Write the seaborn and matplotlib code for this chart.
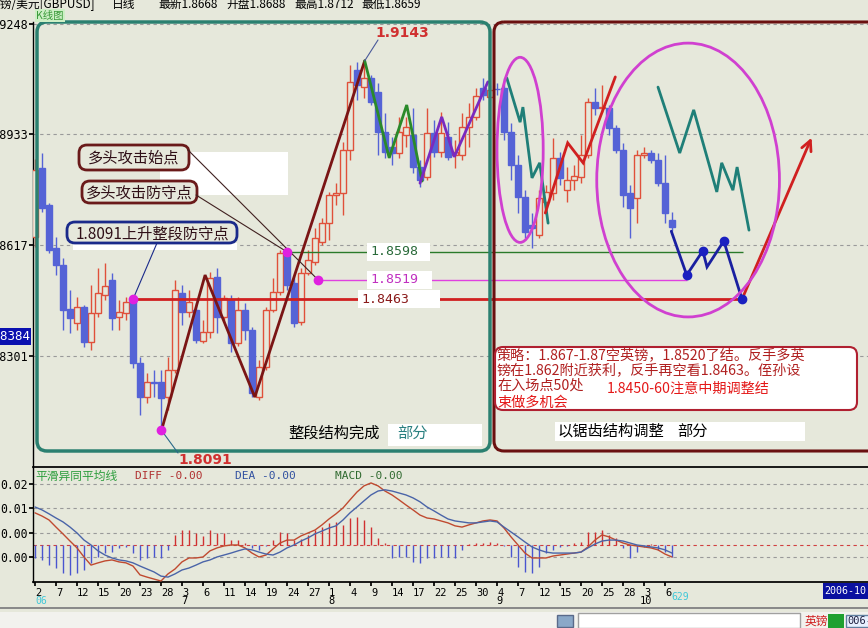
import matplotlib
matplotlib.use("Agg")
import matplotlib.pyplot as plt
import numpy as np
import pandas as pd
import seaborn as sns
from matplotlib.patches import FancyBboxPatch, Ellipse, Rectangle
from matplotlib.transforms import Affine2D

# GBP/USD daily candles, June 2 - Oct 2006
opens = [1.8641, 1.8837, 1.8732, 1.8609, 1.8561, 1.8435, 1.8395, 1.8441, 1.8341, 1.8424,
         1.8475, 1.8518, 1.8412, 1.8424, 1.8461, 1.8281, 1.8184, 1.8227, 1.8227, 1.8184,
         1.8261, 1.8481, 1.8427, 1.8432, 1.8344, 1.8370, 1.8526, 1.8412, 1.8461, 1.8338,
         1.8432, 1.8375, 1.8184, 1.8270, 1.8432, 1.8484, 1.8595, 1.8509, 1.8398, 1.8538,
         1.8570, 1.8627, 1.8680, 1.8760, 1.8766, 1.8889, 1.9117, 1.9068, 1.9094, 1.9054,
         1.8940, 1.8897, 1.8880, 1.8931, 1.8931, 1.8840, 1.8812, 1.8937, 1.8883, 1.8926,
         1.8874, 1.8874, 1.8954, 1.8983, 1.9066, 1.9040, 1.9063, 1.9066, 1.8940, 1.8846,
         1.8755, 1.8675, 1.8646, 1.8740, 1.8766, 1.8866, 1.8774, 1.8803, 1.8812, 1.8874,
         1.9026, 1.9008, 1.9008, 1.8951, 1.8889, 1.8766, 1.8752, 1.8874, 1.8880, 1.8860,
         1.8794, 1.8688]
highs = [1.8863, 1.8880, 1.8737, 1.8641, 1.8581, 1.8489, 1.8469, 1.8446, 1.8504, 1.8552,
         1.8567, 1.8538, 1.8461, 1.8469, 1.8466, 1.8298, 1.8253, 1.8261, 1.8261, 1.8298,
         1.8518, 1.8504, 1.8489, 1.8452, 1.8404, 1.8541, 1.8552, 1.8475, 1.8475, 1.8469,
         1.8452, 1.8384, 1.8290, 1.8441, 1.8524, 1.8604, 1.8604, 1.8532, 1.8552, 1.8604,
         1.8666, 1.8695, 1.8769, 1.8794, 1.8911, 1.9131, 1.9140, 1.9143, 1.9103, 1.9080,
         1.8994, 1.8926, 1.8983, 1.8983, 1.9008, 1.8860, 1.9008, 1.8974, 1.8997, 1.8968,
         1.8917, 1.8994, 1.9023, 1.9066, 1.9094, 1.9074, 1.9080, 1.9094, 1.8966, 1.8874,
         1.8774, 1.8709, 1.8774, 1.8789, 1.8923, 1.8883, 1.8840, 1.8846, 1.8931, 1.9037,
         1.9066, 1.9074, 1.9017, 1.8960, 1.8909, 1.8789, 1.8889, 1.8897, 1.8889, 1.8880,
         1.8874, 1.8712]
lows = [1.8612, 1.8712, 1.8595, 1.8532, 1.8375, 1.8367, 1.8375, 1.8327, 1.8318, 1.8412,
        1.8461, 1.8375, 1.8375, 1.8404, 1.8267, 1.8133, 1.8167, 1.8184, 1.8091, 1.8147,
        1.8253, 1.8390, 1.8412, 1.8338, 1.8338, 1.8352, 1.8367, 1.8398, 1.8313, 1.8330,
        1.8347, 1.8184, 1.8176, 1.8261, 1.8427, 1.8475, 1.8489, 1.8384, 1.8390, 1.8532,
        1.8561, 1.8618, 1.8632, 1.8732, 1.8703, 1.8860, 1.9031, 1.9037, 1.9017, 1.8874,
        1.8866, 1.8846, 1.8866, 1.8897, 1.8823, 1.8783, 1.8803, 1.8869, 1.8869, 1.8860,
        1.8837, 1.8860, 1.8897, 1.8974, 1.9031, 1.9031, 1.9046, 1.8917, 1.8803, 1.8709,
        1.8638, 1.8609, 1.8638, 1.8723, 1.8746, 1.8789, 1.8740, 1.8774, 1.8794, 1.8866,
        1.8988, 1.8997, 1.8931, 1.8880, 1.8726, 1.8638, 1.8680, 1.8866, 1.8852, 1.8786,
        1.8680, 1.8659]
closes = [1.8832, 1.8723, 1.8604, 1.8561, 1.8432, 1.8410, 1.8441, 1.8341, 1.8424, 1.8481,
          1.8501, 1.8410, 1.8427, 1.8455, 1.8281, 1.8184, 1.8227, 1.8224, 1.8181, 1.8261,
          1.8489, 1.8427, 1.8455, 1.8347, 1.8370, 1.8524, 1.8412, 1.8466, 1.8338, 1.8432,
          1.8375, 1.8196, 1.8270, 1.8432, 1.8484, 1.8595, 1.8504, 1.8395, 1.8538, 1.8575,
          1.8638, 1.8680, 1.8760, 1.8766, 1.8889, 1.9083, 1.9074, 1.9094, 1.9026, 1.8940,
          1.8883, 1.8880, 1.8940, 1.8954, 1.8840, 1.8803, 1.8937, 1.8883, 1.8937, 1.8869,
          1.8883, 1.8954, 1.8983, 1.9043, 1.9046, 1.9060, 1.9062, 1.8940, 1.8846, 1.8755,
          1.8655, 1.8666, 1.8752, 1.8769, 1.8866, 1.8809, 1.8803, 1.8814, 1.8874, 1.9026,
          1.9008, 1.9011, 1.8951, 1.8889, 1.8760, 1.8723, 1.8874, 1.8880, 1.8860, 1.8794,
          1.8709, 1.8668]

# MACD panel
diff = [0.0082, 0.0069, 0.0053, 0.0024, -0.0004, -0.0033, -0.0061, -0.0098, -0.0131, -0.0122,
        -0.0114, -0.0110, -0.0118, -0.0122, -0.0135, -0.0171, -0.0180, -0.0188, -0.0196, -0.0167,
        -0.0147, -0.0118, -0.0102, -0.0102, -0.0098, -0.0073, -0.0061, -0.0053, -0.0049, -0.0049,
        -0.0061, -0.0082, -0.0098, -0.0090, -0.0065, -0.0041, -0.0029, -0.0029, -0.0012, 0.0000,
        0.0012, 0.0033, 0.0057, 0.0078, 0.0102, 0.0135, 0.0167, 0.0192, 0.0204, 0.0192,
        0.0171, 0.0155, 0.0135, 0.0114, 0.0094, 0.0073, 0.0061, 0.0057, 0.0049, 0.0041,
        0.0029, 0.0024, 0.0033, 0.0041, 0.0049, 0.0053, 0.0049, 0.0020, -0.0016, -0.0049,
        -0.0082, -0.0102, -0.0102, -0.0102, -0.0094, -0.0090, -0.0086, -0.0082, -0.0078, -0.0057,
        -0.0029, -0.0008, -0.0016, -0.0029, -0.0041, -0.0049, -0.0053, -0.0057, -0.0061, -0.0069,
        -0.0086, -0.0098]
dea = [0.0106, 0.0094, 0.0078, 0.0061, 0.0045, 0.0024, 0.0000, -0.0029, -0.0049, -0.0073,
       -0.0090, -0.0102, -0.0110, -0.0114, -0.0122, -0.0135, -0.0147, -0.0159, -0.0176, -0.0180,
       -0.0167, -0.0151, -0.0143, -0.0131, -0.0118, -0.0110, -0.0098, -0.0090, -0.0082, -0.0073,
       -0.0065, -0.0069, -0.0078, -0.0086, -0.0090, -0.0078, -0.0061, -0.0049, -0.0033, -0.0020,
       -0.0004, 0.0008, 0.0020, 0.0029, 0.0053, 0.0082, 0.0106, 0.0131, 0.0155, 0.0171,
       0.0176, 0.0171, 0.0163, 0.0155, 0.0143, 0.0127, 0.0106, 0.0090, 0.0073, 0.0057,
       0.0049, 0.0045, 0.0041, 0.0041, 0.0045, 0.0049, 0.0045, 0.0024, 0.0004, -0.0016,
       -0.0037, -0.0057, -0.0069, -0.0078, -0.0082, -0.0082, -0.0082, -0.0082, -0.0078, -0.0061,
       -0.0045, -0.0033, -0.0029, -0.0029, -0.0033, -0.0041, -0.0049, -0.0053, -0.0057, -0.0061,
       -0.0069, -0.0082]
macd_hist = [-0.0053, -0.0061, -0.0082, -0.0094, -0.0114, -0.0122, -0.0114, -0.0102, -0.0073, -0.0049,
             -0.0033, -0.0029, -0.0012, -0.0008, -0.0033, -0.0061, -0.0053, -0.0049, -0.0053, -0.0020,
             0.0041, 0.0061, 0.0061, 0.0049, 0.0037, 0.0061, 0.0049, 0.0049, 0.0020, 0.0020,
             0.0008, -0.0012, -0.0020, -0.0004, 0.0020, 0.0053, 0.0049, 0.0020, 0.0024, 0.0041,
             0.0061, 0.0073, 0.0090, 0.0094, 0.0082, 0.0110, 0.0114, 0.0102, 0.0073, 0.0029,
             0.0008, -0.0053, -0.0049, -0.0049, -0.0069, -0.0073, -0.0053, -0.0053, -0.0049, -0.0049,
             -0.0053, -0.0020, 0.0003, 0.0008, 0.0008, 0.0012, 0.0008, -0.0003, -0.0049, -0.0090,
             -0.0110, -0.0114, -0.0090, -0.0033, -0.0020, -0.0008, -0.0004, 0.0008, 0.0012, 0.0053,
             0.0053, 0.0061, 0.0041, 0.0029, -0.0012, -0.0053, -0.0029, -0.0008, 0.0002, -0.0020,
             -0.0029, -0.0049]
hist_base = -0.0049

date_labels = ["2", "7", "12", "15", "20", "23", "28", "3", "6", "11", "14", "19", "24", "27",
               "1", "4", "9", "14", "17", "22", "25", "30", "4", "7", "12", "15", "20", "25", "28",
               "3", "6"]
month_labels = ["7", "8", "9", "10"]
month_ticks = [7, 14, 22, 29]
price_ticks = [1.9248, 1.8933, 1.8617, 1.8301]
macd_ticks = [0.02, 0.01, 0.0, -0.01]
macd_tick_labels = ["0.02", "0.01", "0.00", "0.00"]

# hand-drawn analysis marks, as (bar, price)
brown_zig = [(18.1, 1.8091), (24.3, 1.8532), (31.4, 1.8184), (47.1, 1.9143)]
green_zig = [(47.1, 1.9143), (50.6, 1.8866), (53.1, 1.9017), (55.3, 1.8800)]
purple_zig = [(55.0, 1.8794), (58.1, 1.8983), (59.9, 1.8869), (64.7, 1.9083)]
teal_zig1 = [(67.4, 1.9094), (69.3, 1.8968), (69.7, 1.9011), (71.0, 1.8809), (72.1, 1.8852), (73.3, 1.8680)]
red_zig = [(72.9, 1.8709), (76.1, 1.8909), (78.3, 1.8852), (82.9, 1.9097)]
teal_zig2 = [(89.0, 1.9068), (92.1, 1.8880), (94.1, 1.9003), (97.4, 1.8769), (98.1, 1.8852),
             (99.7, 1.8774), (100.3, 1.8840), (102.0, 1.8660)]
blue_zig = [(90.9, 1.8657), (93.1, 1.8532), (95.4, 1.8601), (96.0, 1.8555), (98.4, 1.8629), (101.0, 1.8463)]
arrow_end = (111.1, 1.8931)
key_points = [(14, 1.8463), (18, 1.8091), (36, 1.8598), (40.4, 1.8519)]
levels = [(1.8598, 36, 101.1), (1.8519, 40.4, 93.1), (1.8463, 14, 101.0)]

sns.set_theme(style="white")
plt.rcParams["font.family"] = ["Noto Sans CJK SC", "DejaVu Sans"]
plt.rcParams["axes.unicode_minus"] = False

W, H = 868, 628
BG = "#E6E8DB"
UP = "#E0503A"
DOWN = "#5563D6"
MONO = "DejaVu Sans Mono"

fig = plt.figure(figsize=(W / 100, H / 100), dpi=100, facecolor=BG)
pix = Affine2D().scale(1 / W, -1 / H).translate(0, 1) + fig.transFigure


def rect(x0, y0, x1, y1):
    return [x0 / W, 1 - y1 / H, (x1 - x0) / W, (y1 - y0) / H]


ax = fig.add_axes(rect(33, 22, 868, 467))
ax2 = fig.add_axes(rect(33, 467, 868, 582))
for a in (ax, ax2):
    a.set_facecolor(BG)
    a.set_xlim(-2 / 7, 833 / 7)
    for s in a.spines.values():
        s.set_visible(False)
    a.spines["left"].set_visible(True)
    a.spines["left"].set_color("black")
    a.spines["left"].set_linewidth(1)
ax2.spines["top"].set_visible(True)
ax2.spines["top"].set_color("black")
ax2.spines["bottom"].set_visible(True)
ax2.spines["bottom"].set_color("black")
ax.set_ylim(1.79845, 1.92537)
ax2.set_ylim(-0.0200, 0.0269)


def to_px(a, x, y):
    dx, dy = a.transData.transform((x, y))
    return dx, H - dy


# ---- candles
df = pd.DataFrame({"open": opens, "high": highs, "low": lows, "close": closes})
df["x"] = np.arange(len(df))
up = df["close"] >= df["open"]
for mask, col in ((up, UP), (~up, DOWN)):
    d = df[mask]
    ax.vlines(d["x"], d["low"], d["high"], color=col, lw=1, zorder=2)
bu = df[up]
ax.bar(bu["x"], bu["close"] - bu["open"], bottom=bu["open"], width=0.72,
       facecolor=BG, edgecolor=UP, lw=1, zorder=3)
bd = df[~up]
ax.bar(bd["x"], bd["open"] - bd["close"], bottom=bd["close"], width=0.72,
       facecolor=DOWN, edgecolor=DOWN, lw=1, zorder=3)

for t in price_ticks:
    ax.axhline(t, color="#9A9A9A", lw=0.8, ls=(0, (3, 3)), zorder=1)
ax.set_xticks([])
ax.set_yticks(price_ticks, labels=[f"{t:.4f}" for t in price_ticks], fontfamily=MONO)
ax.tick_params(axis="y", direction="out", length=3, pad=0.5, labelsize=8.5,
               colors="black", left=True)

# ---- levels
lvl_cols = ["#2A7A2A", "#E040E0", "#D02020"]
lvl_text = ["#2A6A3A", "#C030C0", "#8A1A1A"]
lvl_lw = [1, 1, 2]
lvl_x0 = [367, 367, 358]
lvl_x1 = [430, 432, 440]
for (p, a0, a1), c, tc, lw, x0, x1 in zip(levels, lvl_cols, lvl_text, lvl_lw, lvl_x0, lvl_x1):
    ax.hlines(p, a0, a1, color=c, lw=lw, zorder=4)
    yp = to_px(ax, 0, p)[1]
    ax.add_patch(Rectangle((x0, yp - 9), x1 - x0, 18, transform=pix, facecolor="white",
                           edgecolor="none", zorder=6, clip_on=False))
    ax.text(x0 + 3, yp, f"{p:.4f}", transform=pix, color=tc, fontsize=9.5,
            fontfamily=MONO, va="center", ha="left", zorder=7)


def zig(pts, color, lw=2):
    xs, ys = zip(*pts)
    ax.plot(xs, ys, color=color, lw=lw, zorder=5, solid_joinstyle="miter")


zig(brown_zig, "#7A1515")
zig(green_zig, "#2A8A2A")
zig(purple_zig, "#7A2AC0")
zig(teal_zig1, "#1F7F78")
zig(red_zig, "#D02020")
zig(teal_zig2, "#1F7F78")
zig(blue_zig, "#1A20A0")
bx, by = zip(*blue_zig)
ax.plot([bx[i] for i in (1, 2, 4, 5)], [by[i] for i in (1, 2, 4, 5)], "o",
        color="#1A20C0", ms=6, zorder=9)
ax.annotate("", xy=arrow_end, xytext=blue_zig[-1],
            arrowprops=dict(arrowstyle="->", color="#D02020", lw=2, mutation_scale=18),
            zorder=5)
ax.add_patch(Ellipse((69.3, 1.8889), 6.6, 0.0528, fill=False, ec="#D040D0", lw=2, zorder=5))
ax.add_patch(Ellipse((93.3, 1.8803), 26.1, 0.0781, fill=False, ec="#D040D0", lw=2, zorder=5))

kx, ky = zip(*key_points)
ax.plot(kx, ky, "o", color="#E020E0", ms=6, zorder=9)

# ---- frames
ax.add_patch(FancyBboxPatch((37, 22), 453, 429, boxstyle="round,pad=0,rounding_size=10",
                            transform=pix, fill=False, ec="#2B8070", lw=2.5, zorder=6,
                            clip_on=False))
ax.add_patch(FancyBboxPatch((494, 22), 420, 429, boxstyle="round,pad=0,rounding_size=10",
                            transform=pix, fill=False, ec="#6A1010", lw=2.2, zorder=6,
                            clip_on=False))

# ---- callouts, left part
ax.add_patch(Rectangle((160, 152), 128, 43, transform=pix, fc="white", ec="none",
                       zorder=6, clip_on=False))
ax.add_patch(Rectangle((73, 243), 164, 7, transform=pix, fc="white", ec="none",
                       zorder=6, clip_on=False))
boxes = [((79, 145, 110, 25), "多头攻击始点", "#6A1A1A"),
         ((82, 181, 115, 22), "多头攻击防守点", "#6A1A1A"),
         ((67, 222, 170, 21), "1.8091上升整段防守点", "#1A2A8A")]
for (x0, y0, w, h), txt, ec in boxes:
    ax.add_patch(FancyBboxPatch((x0, y0), w, h, boxstyle="round,pad=0,rounding_size=8",
                                transform=pix, fc=BG, ec=ec, lw=2, zorder=7, clip_on=False))
    ax.text(x0 + w / 2, y0 + h / 2 + 1, txt, transform=pix, fontsize=11, color="#301018",
            ha="center", va="center", zorder=8)

for start, dpt, col in (((188, 150), key_points[3], "#402020"),
                        ((196, 195), key_points[2], "#402020"),
                        ((157, 243), key_points[0], "#1A2A8A")):
    ex, ey = to_px(ax, *dpt)
    ax.plot([start[0], ex], [start[1], ey], transform=pix, color=col, lw=0.8,
            zorder=8, clip_on=False)

px_, py_ = to_px(ax, 47.1, 1.9143)
ax.plot([px_, 378], [py_, 40], transform=pix, color="#4A5A9A", lw=0.8, zorder=8)
ax.text(375, 33, "1.9143", transform=pix, color="#D03030", fontsize=10,
        fontweight="bold", fontfamily="DejaVu Sans", va="center", zorder=8)
px_, py_ = to_px(ax, 18, 1.8091)
ax.plot([px_, 178], [py_, 453], transform=pix, color="#2A6A8A", lw=0.8, zorder=8,
        clip_on=False)
ax.text(178, 460, "1.8091", transform=pix, color="#D03030", fontsize=10,
        fontweight="bold", fontfamily="DejaVu Sans", va="center", zorder=8, clip_on=False)

ax.add_patch(Rectangle((388, 424), 94, 22, transform=pix, fc="white", ec="none",
                       zorder=6, clip_on=False))
ax.text(288, 433, "整段结构完成", transform=pix, fontsize=11, color="black",
        va="center", zorder=8)
ax.text(397, 434, "部分", transform=pix, fontsize=11, color="#2A8080", va="center", zorder=8)

# ---- right part
ax.add_patch(Rectangle((555, 422), 250, 19, transform=pix, fc="white", ec="none",
                       zorder=6, clip_on=False))
ax.text(558, 431, "以锯齿结构调整", transform=pix, fontsize=11, color="black",
        va="center", zorder=8)
ax.text(677, 432, "部分", transform=pix, fontsize=11, color="black", va="center", zorder=8)

ax.add_patch(FancyBboxPatch((495, 347), 362, 63, boxstyle="round,pad=0,rounding_size=8",
                            transform=pix, fc="white", ec="#B02030", lw=1.5, zorder=6,
                            clip_on=False))
strategy = [(497, 356, "策略：1.867-1.87空英镑，1.8520了结。反手多英", "#B02020"),
            (497, 371, "镑在1.862附近获利，反手再空看1.8463。侄孙设", "#B02020"),
            (497, 386, "在入场点50处", "#B02020"),
            (607, 389, "1.8450-60注意中期调整结", "#E41818"),
            (497, 403, "束做多机会", "#E41818")]
for x0, y0, txt, col in strategy:
    ax.text(x0, y0, txt, transform=pix, fontsize=10.2, color=col, va="center",
            ha="left", zorder=8)

# ---- MACD panel
mdf = pd.DataFrame({"x": np.arange(len(diff)), "DIFF": diff, "DEA": dea})
for v in macd_ticks:
    ax2.axhline(v, color="#9A9A9A", lw=0.8, ls=(0, (3, 3)), zorder=1)
ax2.axhline(hist_base, color="#D04040", lw=0.8, ls=(0, (3, 3)), zorder=1)
hist = np.array(macd_hist)
ax2.vlines(mdf["x"], hist_base, hist_base + hist,
           colors=np.where(hist >= 0, "#D03030", "#4A55D0"), lw=1, zorder=2)
sns.lineplot(data=mdf, x="x", y="DIFF", ax=ax2, color="#C04A30", lw=1, zorder=3)
sns.lineplot(data=mdf, x="x", y="DEA", ax=ax2, color="#4A64A8", lw=1, zorder=3)
ax2.set_xlabel("")
ax2.set_ylabel("")
ax2.set_yticks(macd_ticks, labels=macd_tick_labels, fontfamily=MONO)
ax2.tick_params(axis="y", direction="out", length=3, pad=0.5, labelsize=8.3,
                colors="black", left=True)
tick_pos = np.arange(len(date_labels)) * 3
ax2.set_xticks(tick_pos, labels=date_labels, ha="left", fontfamily=MONO)
ax2.tick_params(axis="x", direction="out", length=3, pad=1, labelsize=7.5,
                colors="black", bottom=True)

for k, m in zip(month_ticks, month_labels):
    xp = to_px(ax2, tick_pos[k] + 0.3, 0)[0]
    fig.text(xp, 601, m, transform=pix, fontsize=7.5, fontfamily=MONO, ha="center",
             va="center", color="black")
xp = to_px(ax2, 0, 0)[0]
fig.text(xp, 601, "06", transform=pix, fontsize=7, fontfamily=MONO, ha="left",
         va="center", color="#40C8D8")
xp = to_px(ax2, len(diff) + 0.2, 0)[0]
fig.text(xp, 597, "629", transform=pix, fontsize=7, fontfamily=MONO, ha="center",
         va="center", color="#40C8D8")

fig.text(35, 476, "平滑异同平均线", transform=pix, fontsize=8.5, color="#2E9E3E", va="center")
fig.text(135, 476, "DIFF -0.00", transform=pix, fontsize=8, fontfamily=MONO,
         color="#B03030", va="center")
fig.text(235, 476, "DEA -0.00", transform=pix, fontsize=8, fontfamily=MONO,
         color="#3050A0", va="center")
fig.text(335, 476, "MACD -0.00", transform=pix, fontsize=8, fontfamily=MONO,
         color="#306A30", va="center")

# ---- header / chrome
fig.text(95, 8, "英镑/美元[GBPUSD]", transform=pix, fontsize=8.5, ha="right",
         va="baseline", color="black")
for x0, txt in ((112, "日线"), (158, "最新1.8668"), (226, "开盘1.8688"),
                (294, "最高1.8712"), (361, "最低1.8659")):
    fig.text(x0, 8, txt, transform=pix, fontsize=8.5, ha="left", va="baseline", color="black")
fig.text(36, 15.5, "K线图", transform=pix, fontsize=7.5, color="#3A9A3A", va="center",
         bbox=dict(boxstyle="square,pad=0.1", fc="#CDEFC5", ec="none"))

fig.patches.append(Rectangle((0, 328), 31, 17, transform=pix, fc="#0A10B0", ec="none",
                             figure=fig))
fig.text(30.5, 336.5, "1.8384", transform=pix, fontsize=9, fontfamily=MONO, color="white",
         ha="right", va="center")

fig.patches.append(Rectangle((823, 583), 45, 16, transform=pix, fc="#0A10A0", ec="none",
                             figure=fig))
fig.text(824.5, 591, "2006-10", transform=pix, fontsize=7.2, fontfamily=MONO, color="white",
         ha="left", va="center")

fig.patches.append(Rectangle((0, 607), W, 2, transform=pix, fc="#8A8A8A", ec="none",
                             figure=fig))
fig.patches.append(Rectangle((0, 612), W, 16, transform=pix, fc="#F2F2EE", ec="none",
                             figure=fig))
fig.patches.append(Rectangle((557, 615), 16, 12, transform=pix, fc="#8AA8C8", ec="#5A6A8A",
                             figure=fig))
fig.patches.append(Rectangle((578, 613), 222, 15, transform=pix, fc="white", ec="#A0A0A0",
                             figure=fig))
fig.text(805, 621, "英镑", transform=pix, fontsize=8.5, color="#D02020", va="center")
fig.patches.append(Rectangle((828, 614), 16, 14, transform=pix, fc="#20A030", ec="none",
                             figure=fig))
fig.text(847, 621, "006-", transform=pix, fontsize=7.5, fontfamily=MONO, color="#202040",
         va="center", bbox=dict(boxstyle="square,pad=0.1", fc="#E8F0FF", ec="#6080A0"))

fig.savefig("out.png", dpi=100, facecolor=BG)
